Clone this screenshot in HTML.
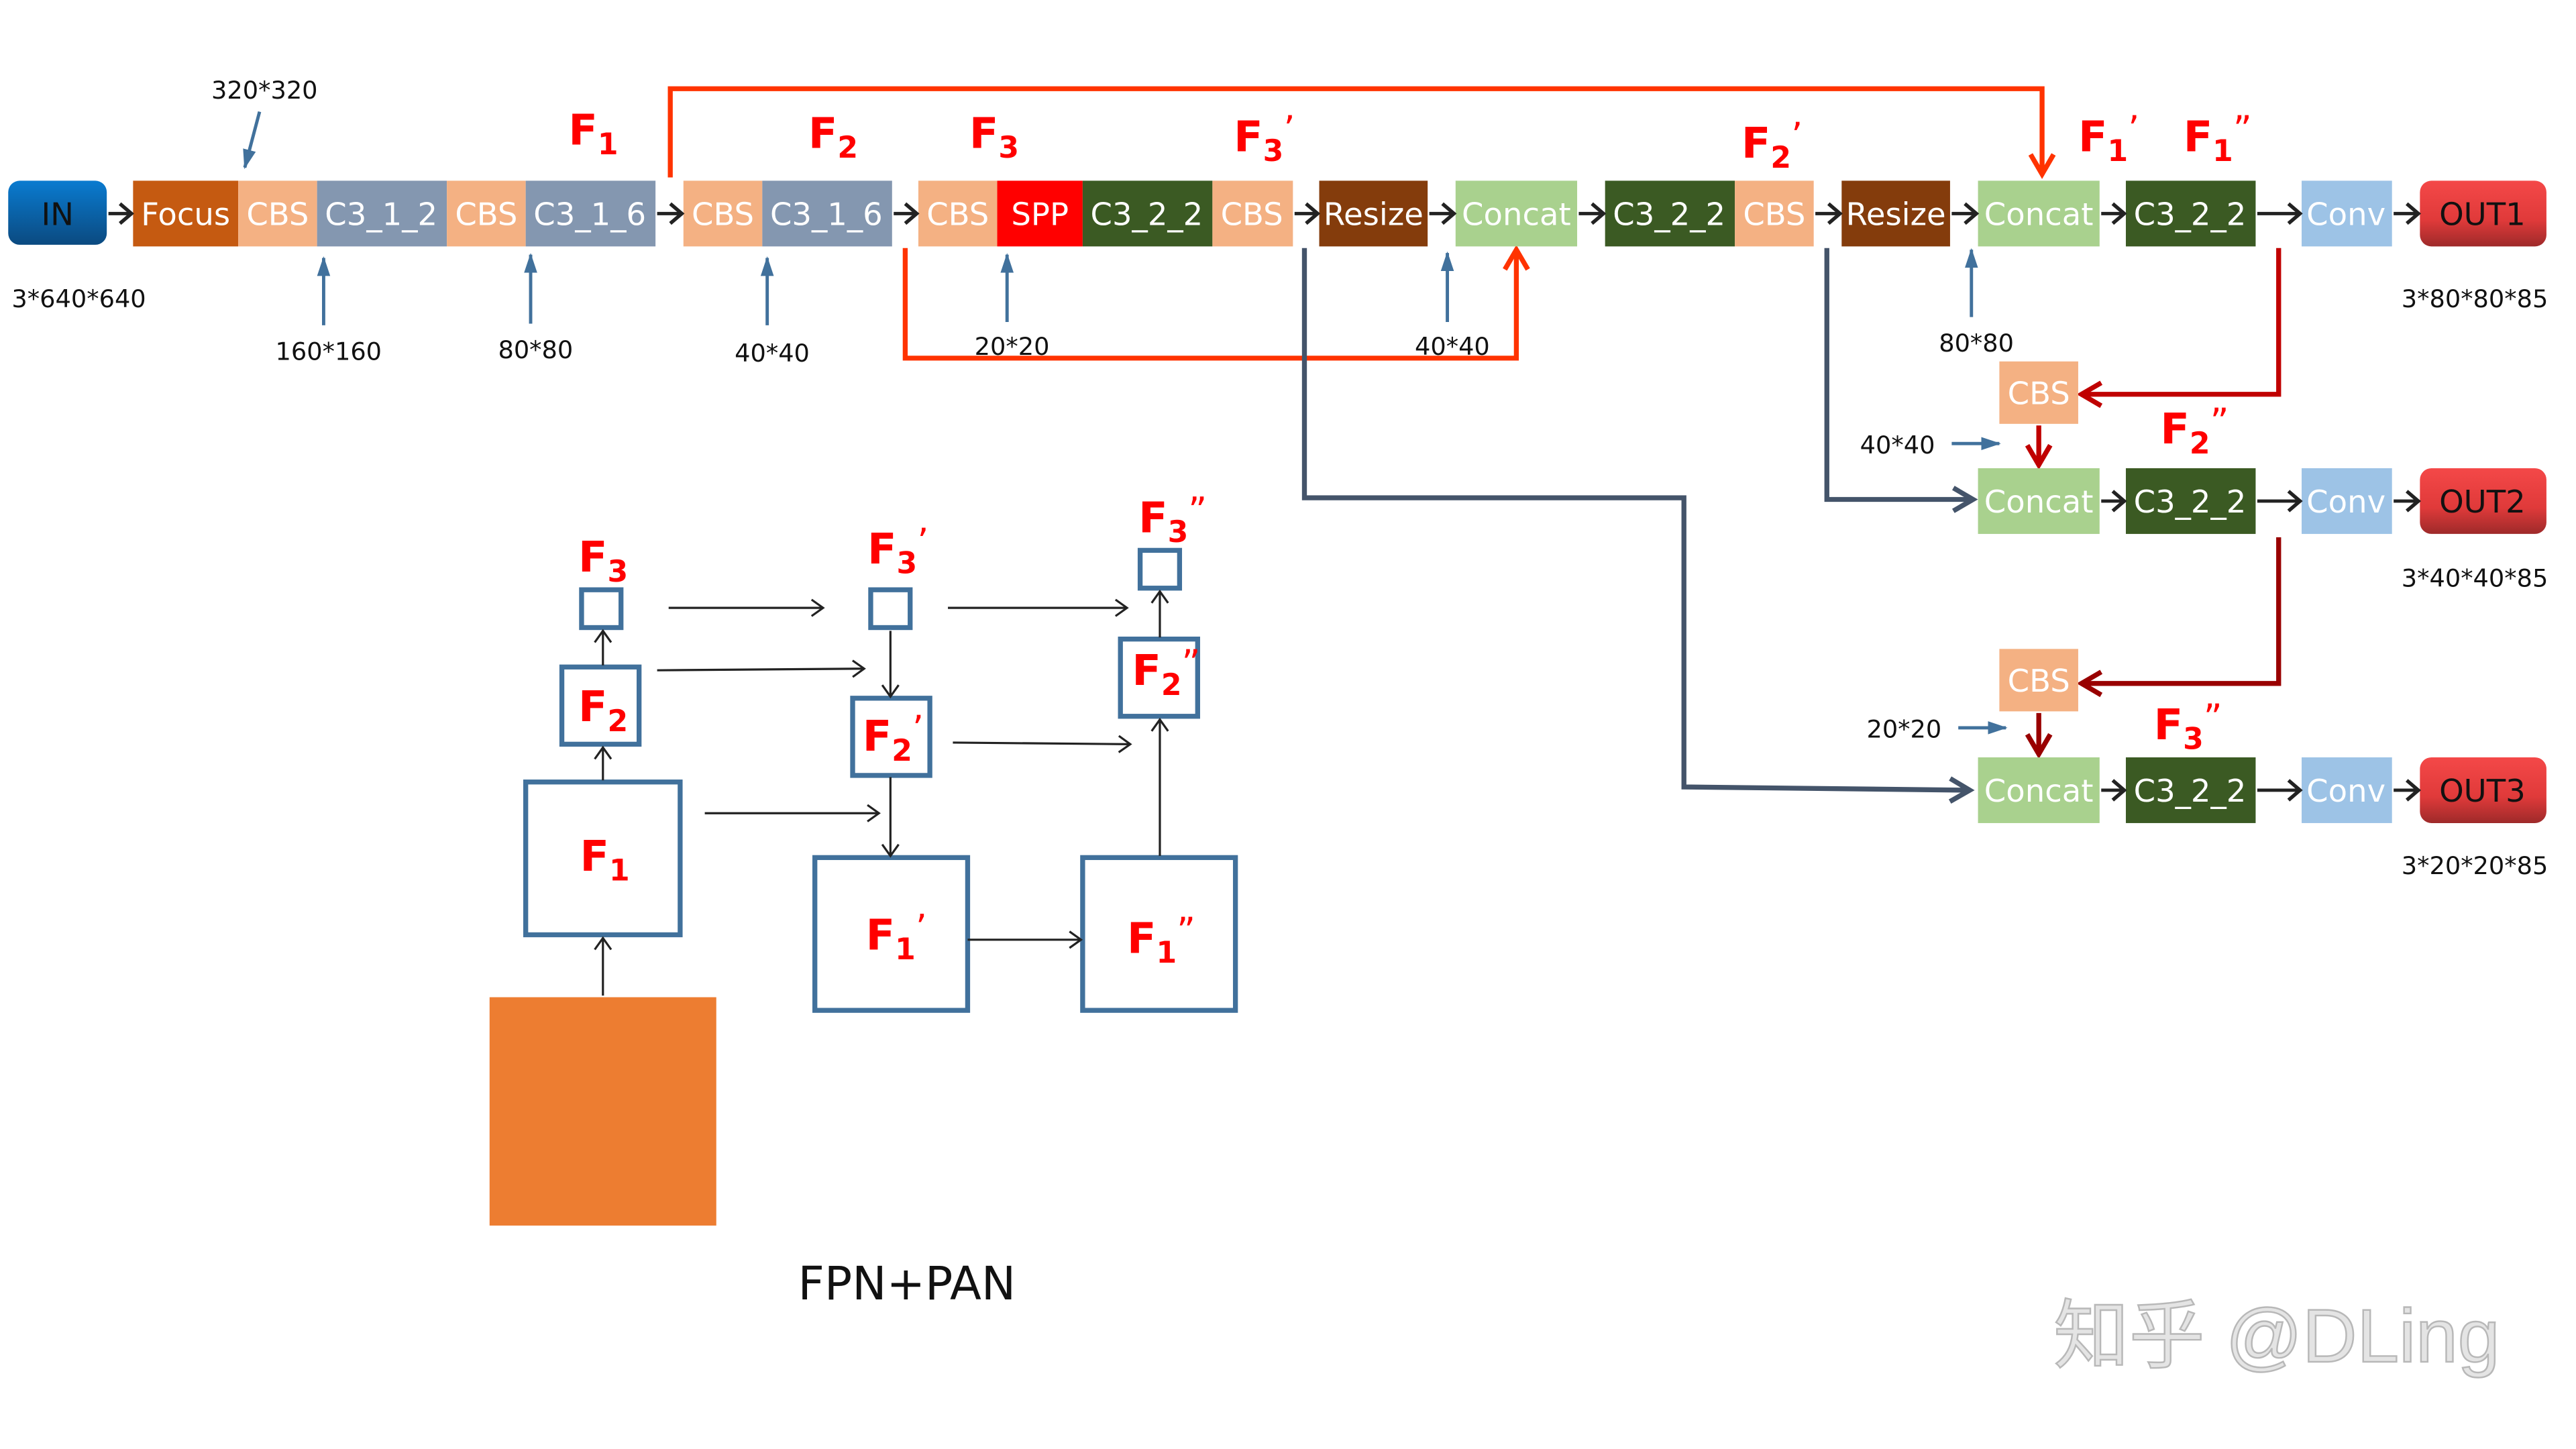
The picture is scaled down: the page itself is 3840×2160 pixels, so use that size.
<!DOCTYPE html>
<html><head><meta charset="utf-8"><style>html,body{margin:0;padding:0;background:#fff}svg{display:block}</style></head>
<body>
<svg width="3840" height="2160" viewBox="0 0 1568 882" xmlns="http://www.w3.org/2000/svg" font-family="DejaVu Sans, Liberation Sans, sans-serif">
<defs>
<linearGradient id="gin" x1="0" y1="0" x2="0" y2="1"><stop offset="0" stop-color="#0a7bd0"/><stop offset="1" stop-color="#0b4a80"/></linearGradient>
<linearGradient id="gout" x1="0" y1="0" x2="0" y2="1"><stop offset="0" stop-color="#f44848"/><stop offset="0.6" stop-color="#e03a3a"/><stop offset="1" stop-color="#9e2a2a"/></linearGradient>
<marker id="ab" markerUnits="userSpaceOnUse" markerWidth="14" markerHeight="14" refX="10" refY="7" orient="auto"><path d="M3,1 L10,7 L3,13" fill="none" stroke="#222" stroke-width="2.2"/></marker>
<marker id="at" markerUnits="userSpaceOnUse" markerWidth="14" markerHeight="14" refX="10" refY="7" orient="auto"><path d="M3,2 L10,7 L3,12" fill="none" stroke="#222" stroke-width="1.3"/></marker>
<marker id="abl" markerUnits="userSpaceOnUse" markerWidth="14" markerHeight="14" refX="11" refY="7" orient="auto"><path d="M0,3 L12,7 L0,11 Z" fill="#41719c"/></marker>
<marker id="aor" markerUnits="userSpaceOnUse" markerWidth="18" markerHeight="18" refX="14" refY="9" orient="auto"><path d="M2,2 L14,9 L2,16" fill="none" stroke="#ff3300" stroke-width="3"/></marker>
<marker id="ard" markerUnits="userSpaceOnUse" markerWidth="18" markerHeight="18" refX="14" refY="9" orient="auto"><path d="M2,2 L14,9 L2,16" fill="none" stroke="#c00000" stroke-width="3"/></marker>
<marker id="ard2" markerUnits="userSpaceOnUse" markerWidth="18" markerHeight="18" refX="14" refY="9" orient="auto"><path d="M2,2 L14,9 L2,16" fill="none" stroke="#990000" stroke-width="3"/></marker>
<marker id="asl" markerUnits="userSpaceOnUse" markerWidth="18" markerHeight="18" refX="14" refY="9" orient="auto"><path d="M2,2 L14,9 L2,16" fill="none" stroke="#44546a" stroke-width="3"/></marker>
</defs>

<g fill="none" stroke-width="3">
<path d="M408,108 V54 H1243 V106" stroke="#ff3300" marker-end="url(#aor)"/>
<path d="M551,151 V218 H923 V152" stroke="#ff3300" marker-end="url(#aor)"/>
<path d="M794,151 V303 H1025 V479 L1199,481" stroke="#44546a" marker-end="url(#asl)"/>
<path d="M1112,151 V304 H1201" stroke="#44546a" marker-end="url(#asl)"/>
<path d="M1387,151 V240 H1267" stroke="#c00000" marker-end="url(#ard)"/>
<path d="M1241,259 V283" stroke="#c00000" marker-end="url(#ard)"/>
<path d="M1387,327 V416 H1267" stroke="#990000" marker-end="url(#ard2)"/>
<path d="M1241,434 V459" stroke="#990000" marker-end="url(#ard2)"/>
</g>

<g stroke="#41719c" stroke-width="2" fill="none">
<line x1="158" y1="68" x2="149" y2="102" marker-end="url(#abl)"/>
<line x1="197" y1="198" x2="197" y2="157" marker-end="url(#abl)"/>
<line x1="323" y1="197" x2="323" y2="155" marker-end="url(#abl)"/>
<line x1="467" y1="198" x2="467" y2="157" marker-end="url(#abl)"/>
<line x1="613" y1="196" x2="613" y2="155" marker-end="url(#abl)"/>
<line x1="881" y1="196" x2="881" y2="154" marker-end="url(#abl)"/>
<line x1="1200" y1="193" x2="1200" y2="152" marker-end="url(#abl)"/>
<line x1="1188" y1="270" x2="1217" y2="270" marker-end="url(#abl)"/>
<line x1="1192" y1="443" x2="1221" y2="443" marker-end="url(#abl)"/>
</g>

<rect x="5" y="110" width="60" height="39" rx="7" fill="url(#gin)"/>
<rect x="81" y="110" width="64" height="40" fill="#c55a11"/>
<rect x="145" y="110" width="48" height="40" fill="#f4b183"/>
<rect x="193" y="110" width="79" height="40" fill="#8497b0"/>
<rect x="272" y="110" width="48" height="40" fill="#f4b183"/>
<rect x="320" y="110" width="79" height="40" fill="#8497b0"/>
<rect x="416" y="110" width="48" height="40" fill="#f4b183"/>
<rect x="464" y="110" width="79" height="40" fill="#8497b0"/>
<rect x="559" y="110" width="48" height="40" fill="#f4b183"/>
<rect x="607" y="110" width="52" height="40" fill="#ff0000"/>
<rect x="659" y="110" width="79" height="40" fill="#3b5a23"/>
<rect x="738" y="110" width="49" height="40" fill="#f4b183"/>
<rect x="803" y="110" width="66" height="40" fill="#843c0c"/>
<rect x="886" y="110" width="74" height="40" fill="#a9d18e"/>
<rect x="977" y="110" width="79" height="40" fill="#3b5a23"/>
<rect x="1056" y="110" width="48" height="40" fill="#f4b183"/>
<rect x="1121" y="110" width="66" height="40" fill="#843c0c"/>
<rect x="1204" y="110" width="74" height="40" fill="#a9d18e"/>
<rect x="1294" y="110" width="79" height="40" fill="#3b5a23"/>
<rect x="1401" y="110" width="55" height="40" fill="#9dc3e6"/>
<rect x="1473" y="110" width="77" height="40" rx="7" fill="url(#gout)"/>
<rect x="1217" y="220" width="48" height="38" fill="#f4b183"/>
<rect x="1204" y="285" width="74" height="40" fill="#a9d18e"/>
<rect x="1294" y="285" width="79" height="40" fill="#3b5a23"/>
<rect x="1401" y="285" width="55" height="40" fill="#9dc3e6"/>
<rect x="1473" y="285" width="77" height="40" rx="7" fill="url(#gout)"/>
<rect x="1217" y="395" width="48" height="38" fill="#f4b183"/>
<rect x="1204" y="461" width="74" height="40" fill="#a9d18e"/>
<rect x="1294" y="461" width="79" height="40" fill="#3b5a23"/>
<rect x="1401" y="461" width="55" height="40" fill="#9dc3e6"/>
<rect x="1473" y="461" width="77" height="40" rx="7" fill="url(#gout)"/>

<g stroke="#222" stroke-width="2" marker-end="url(#ab)">
<line x1="66" y1="130" x2="80" y2="130"/>
<line x1="400" y1="130" x2="415" y2="130"/>
<line x1="544" y1="130" x2="558" y2="130"/>
<line x1="788" y1="130" x2="802" y2="130"/>
<line x1="870" y1="130" x2="885" y2="130"/>
<line x1="961" y1="130" x2="976" y2="130"/>
<line x1="1105" y1="130" x2="1120" y2="130"/>
<line x1="1188" y1="130" x2="1203" y2="130"/>
<line x1="1279" y1="130" x2="1293" y2="130"/>
<line x1="1374" y1="130" x2="1400" y2="130"/>
<line x1="1457" y1="130" x2="1472" y2="130"/>
<line x1="1279" y1="305" x2="1293" y2="305"/>
<line x1="1374" y1="305" x2="1400" y2="305"/>
<line x1="1457" y1="305" x2="1472" y2="305"/>
<line x1="1279" y1="481" x2="1293" y2="481"/>
<line x1="1374" y1="481" x2="1400" y2="481"/>
<line x1="1457" y1="481" x2="1472" y2="481"/>
</g>

<g font-size="19" fill="#fff" text-anchor="middle">
<text x="35" y="137" fill="#111">IN</text>
<text x="113" y="137">Focus</text>
<text x="169" y="137">CBS</text>
<text x="232" y="137">C3_1_2</text>
<text x="296" y="137">CBS</text>
<text x="359" y="137">C3_1_6</text>
<text x="440" y="137">CBS</text>
<text x="503" y="137">C3_1_6</text>
<text x="583" y="137">CBS</text>
<text x="633" y="137">SPP</text>
<text x="698" y="137">C3_2_2</text>
<text x="762" y="137">CBS</text>
<text x="836" y="137">Resize</text>
<text x="923" y="137">Concat</text>
<text x="1016" y="137">C3_2_2</text>
<text x="1080" y="137">CBS</text>
<text x="1154" y="137">Resize</text>
<text x="1241" y="137">Concat</text>
<text x="1333" y="137">C3_2_2</text>
<text x="1428" y="137">Conv</text>
<text x="1511" y="137" fill="#111">OUT1</text>
<text x="1241" y="246">CBS</text>
<text x="1241" y="312">Concat</text>
<text x="1333" y="312">C3_2_2</text>
<text x="1428" y="312">Conv</text>
<text x="1511" y="312" fill="#111">OUT2</text>
<text x="1241" y="421">CBS</text>
<text x="1241" y="488">Concat</text>
<text x="1333" y="488">C3_2_2</text>
<text x="1428" y="488">Conv</text>
<text x="1511" y="488" fill="#111">OUT3</text>
</g>

<g font-size="15" fill="#111" text-anchor="middle">
<text x="161" y="60">320*320</text>
<text x="48" y="187">3*640*640</text>
<text x="200" y="219">160*160</text>
<text x="326" y="218">80*80</text>
<text x="470" y="220">40*40</text>
<text x="616" y="216">20*20</text>
<text x="884" y="216">40*40</text>
<text x="1203" y="214">80*80</text>
<text x="1155" y="276">40*40</text>
<text x="1159" y="449">20*20</text>
</g>
<g font-size="15" fill="#111" text-anchor="end">
<text x="1551" y="187">3*80*80*85</text>
<text x="1551" y="357">3*40*40*85</text>
<text x="1551" y="532">3*20*20*85</text>
</g>

<g font-size="26" font-weight="bold" fill="#ff0000">
<text x="346" y="88">F<tspan font-size="18" dy="6">1</tspan></text>
<text x="492" y="90">F<tspan font-size="18" dy="6">2</tspan></text>
<text x="590" y="90">F<tspan font-size="18" dy="6">3</tspan></text>
<text x="751" y="92">F<tspan font-size="18" dy="6">3</tspan><tspan dy="-12" font-size="22" font-weight="normal">’</tspan></text>
<text x="1060" y="96">F<tspan font-size="18" dy="6">2</tspan><tspan dy="-12" font-size="22" font-weight="normal">’</tspan></text>
<text x="1265" y="92">F<tspan font-size="18" dy="6">1</tspan><tspan dy="-12" font-size="22" font-weight="normal">’</tspan></text>
<text x="1329" y="92">F<tspan font-size="18" dy="6">1</tspan><tspan dy="-12" font-size="22" font-weight="normal">”</tspan></text>
<text x="1315" y="270">F<tspan font-size="18" dy="6">2</tspan><tspan dy="-12" font-size="22" font-weight="normal">”</tspan></text>
<text x="1311" y="450">F<tspan font-size="18" dy="6">3</tspan><tspan dy="-12" font-size="22" font-weight="normal">”</tspan></text>
</g>

<rect x="298" y="607" width="138" height="139" fill="#ed7d31"/>
<g fill="none" stroke="#41719c" stroke-width="3">
<rect x="320" y="476" width="94" height="93"/>
<rect x="342" y="406" width="47" height="47"/>
<rect x="354" y="359" width="24" height="23"/>
<rect x="530" y="359" width="24" height="23"/>
<rect x="519" y="425" width="47" height="47"/>
<rect x="496" y="522" width="93" height="93"/>
<rect x="694" y="335" width="24" height="23"/>
<rect x="682" y="389" width="47" height="47"/>
<rect x="659" y="522" width="93" height="93"/>
</g>
<g stroke="#222" stroke-width="1.3" marker-end="url(#at)">
<line x1="367" y1="606" x2="367" y2="571"/>
<line x1="367" y1="475" x2="367" y2="455"/>
<line x1="367" y1="405" x2="367" y2="384"/>
<line x1="407" y1="370" x2="501" y2="370"/>
<line x1="400" y1="408" x2="526" y2="407"/>
<line x1="429" y1="495" x2="535" y2="495"/>
<line x1="542" y1="384" x2="542" y2="424"/>
<line x1="542" y1="473" x2="542" y2="521"/>
<line x1="580" y1="452" x2="688" y2="453"/>
<line x1="577" y1="370" x2="686" y2="370"/>
<line x1="589" y1="572" x2="658" y2="572"/>
<line x1="706" y1="521" x2="706" y2="438"/>
<line x1="706" y1="388" x2="706" y2="360"/>
</g>
<g font-size="26" font-weight="bold" fill="#ff0000">
<text x="353" y="530">F<tspan font-size="18" dy="6">1</tspan></text>
<text x="352" y="439">F<tspan font-size="18" dy="6">2</tspan></text>
<text x="352" y="348">F<tspan font-size="18" dy="6">3</tspan></text>
<text x="528" y="343">F<tspan font-size="18" dy="6">3</tspan><tspan dy="-12" font-size="22" font-weight="normal">’</tspan></text>
<text x="525" y="457">F<tspan font-size="18" dy="6">2</tspan><tspan dy="-12" font-size="22" font-weight="normal">’</tspan></text>
<text x="527" y="578">F<tspan font-size="18" dy="6">1</tspan><tspan dy="-12" font-size="22" font-weight="normal">’</tspan></text>
<text x="686" y="580">F<tspan font-size="18" dy="6">1</tspan><tspan dy="-12" font-size="22" font-weight="normal">”</tspan></text>
<text x="689" y="417">F<tspan font-size="18" dy="6">2</tspan><tspan dy="-12" font-size="22" font-weight="normal">”</tspan></text>
<text x="693" y="324">F<tspan font-size="18" dy="6">3</tspan><tspan dy="-12" font-size="22" font-weight="normal">”</tspan></text>
</g>
<text x="552" y="791" font-size="28" fill="#111" text-anchor="middle">FPN+PAN</text>

<text x="1250" y="829" font-size="46" fill="#e4e4e4" stroke="#b8b8b8" stroke-width="1" font-family="Liberation Sans, Noto Sans CJK SC, sans-serif">知乎 @DLing</text>
</svg>
</body></html>
